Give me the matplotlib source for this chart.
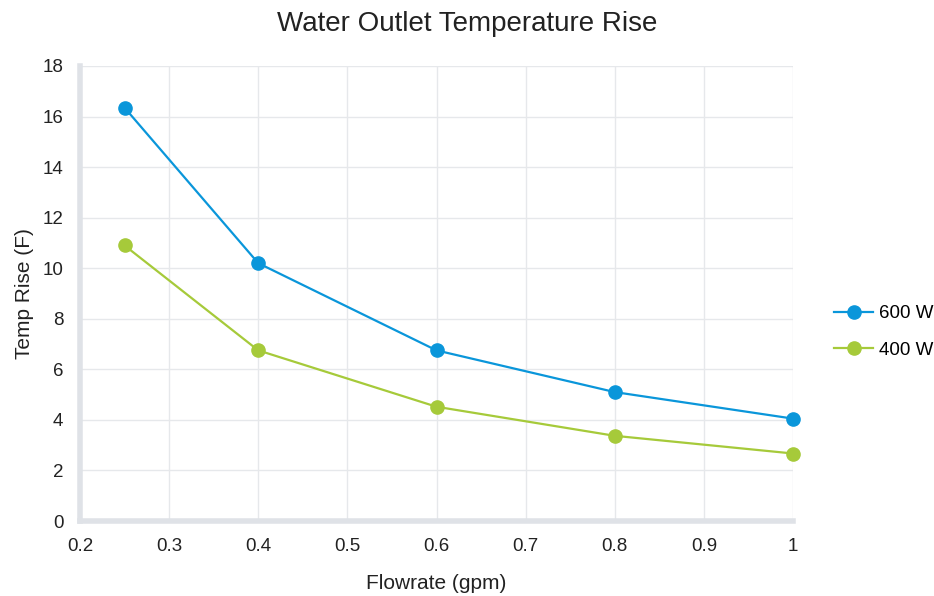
import matplotlib.pyplot as plt

plt.rcParams['font.family'] = ['Liberation Sans', 'DejaVu Sans']

# data
flow = [0.25, 0.4, 0.6, 0.8, 1.0]
rise_600 = [16.35, 10.2, 6.75, 5.1, 4.05]
rise_400 = [10.9, 6.75, 4.52, 3.37, 2.67]

blue = '#0a96da'
green = '#a6ca3a'

fig = plt.figure(figsize=(9.34, 5.96), dpi=100)
ax = fig.add_axes([80/934, 1-521/596, (793-80)/934, (521-66)/596])

ax.plot(flow, rise_600, color=blue, lw=1.6, marker='o', ms=9.5, label='600 W', clip_on=False)
ax.plot(flow, rise_400, color=green, lw=1.6, marker='o', ms=9.5, label='400 W', clip_on=False)

ax.set_xlim(0.2, 1.0)
ax.set_ylim(0, 18)
ax.set_xticks([0.2, 0.3, 0.4, 0.5, 0.6, 0.7, 0.8, 0.9, 1.0])
ax.set_xticklabels(['0.2', '0.3', '0.4', '0.5', '0.6', '0.7', '0.8', '0.9', '1'])
ax.set_yticks(range(0, 19, 2))
ax.grid(True, color='#e6e8eb', lw=1)
ax.set_axisbelow(True)

for s in ['top', 'right']:
    ax.spines[s].set_visible(False)
for s in ['left', 'bottom']:
    ax.spines[s].set_color('#dfe2e7')
    ax.spines[s].set_linewidth(4)
ax.tick_params(length=0, labelsize=13.5, colors='#222222', pad=12)

ax.set_xlabel('Flowrate (gpm)', fontsize=15, color='#222222', labelpad=14)
ax.set_ylabel('Temp Rise (F)', fontsize=15, color='#222222', labelpad=6)
fig.suptitle('Water Outlet Temperature Rise', fontsize=20, color='#222222', y=0.982)

fig.legend(loc='center left', bbox_to_anchor=(817/934, 1-332/596), frameon=False,
           fontsize=13.5, handlelength=2.1, labelspacing=1.05, handletextpad=0.3)

plt.savefig('out.png', dpi=100)
